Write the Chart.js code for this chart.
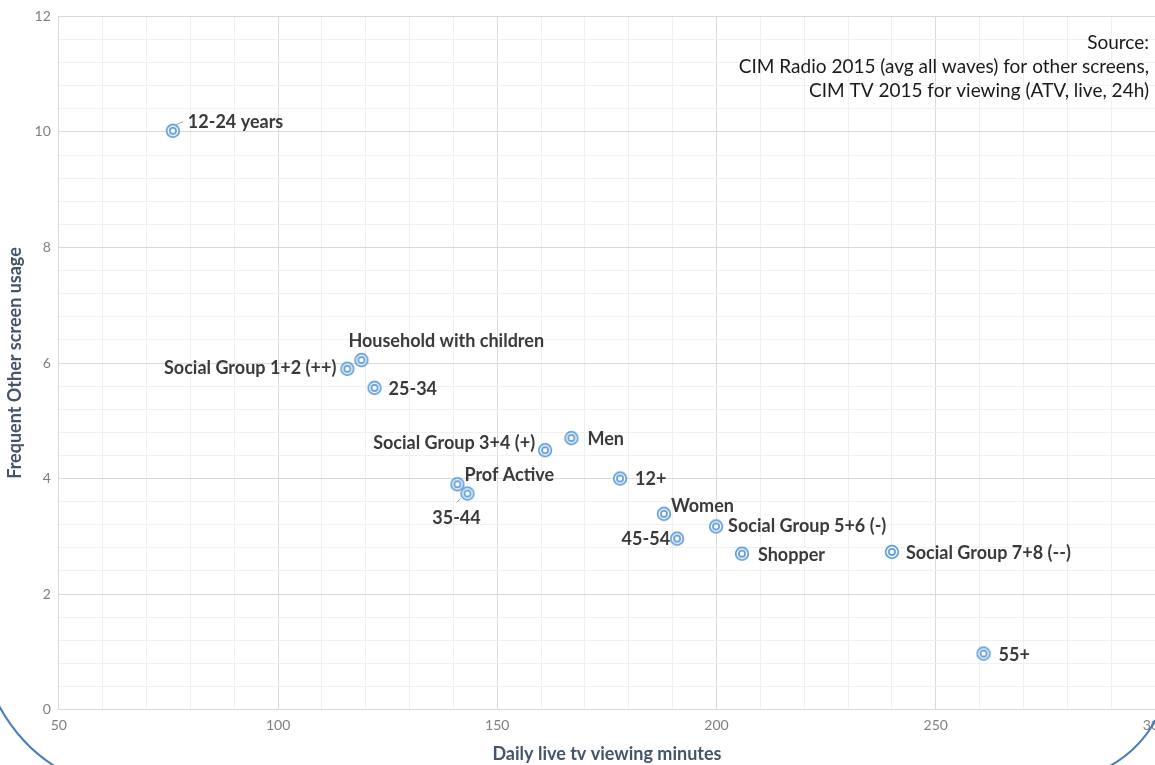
<!DOCTYPE html>
<html><head><meta charset="utf-8">
<script src="https://cdn.jsdelivr.net/npm/chart.js@4.4.1/dist/chart.umd.min.js"></script>
<style>
html,body{margin:0;padding:0;background:#fff;overflow:hidden;width:1155px;height:765px}
#wrap{position:relative;width:1200px;height:765px}
</style></head><body>
<div id="wrap"><canvas id="c"></canvas></div>
<script>
// Target groups, daily live TV minutes vs. frequent other-screen usage
const groups = ['12-24 years','Household with children','Social Group 1+2 (++)','25-34',
  'Social Group 3+4 (+)','Men','12+','Prof Active','35-44','Women',
  'Social Group 5+6 (-)','45-54','Shopper','Social Group 7+8 (--)','55+'];
const viewingMinutes = [76, 119, 115.8, 122, 160.9, 166.9, 178, 140.9, 143.2, 188, 199.9, 191, 205.8, 240, 260.9];
const screenUsage    = [10.02, 6.05, 5.9, 5.57, 4.49, 4.70, 4.0, 3.90, 3.74, 3.39, 3.17, 2.96, 2.70, 2.73, 0.97];
const sourceLines = ['Source:', 'CIM Radio 2015 (avg all waves) for other screens,', 'CIM TV 2015 for viewing (ATV, live, 24h)'];

// label placement: [dx, dy, align, leader line]
const labelPlacement = [
  [15,-9,'left',[3,-6,10,-9]], [-13,-19,'left'], [-11,-1,'right'], [14,1,'left'],
  [-10,-7,'right'], [16,1,'left'], [15,1,'left'], [7,-9,'left'], [-11,25,'center',[-11,9,-7,5]],
  [7,-8,'left'], [12,0,'left'], [-7,1,'right'], [16,2,'left'], [14,1,'left'], [15,2,'left']
];

const BLUE = '#5b9bd5';
const marker = document.createElement('canvas');
marker.width = 18; marker.height = 18;
(function(){
  const g = marker.getContext('2d');
  g.strokeStyle = BLUE; g.lineWidth = 1.7; g.fillStyle = '#fff';
  g.beginPath(); g.arc(9,9,6.3,0,Math.PI*2); g.fill(); g.stroke();
  g.beginPath(); g.arc(9,9,3.1,0,Math.PI*2); g.stroke();
})();

const points = viewingMinutes.map((x,i)=>({x, y: screenUsage[i]}));

const labelPlugin = {
  id: 'pointLabels',
  afterDatasetsDraw(chart){
    const ctx = chart.ctx;
    const meta = chart.getDatasetMeta(0);
    ctx.save();
    ctx.font = 'bold 18px Lato';
    ctx.fillStyle = '#3a3a3a';
    ctx.textBaseline = 'middle';
    meta.data.forEach((el,i)=>{
      const p = labelPlacement[i];
      ctx.textAlign = p[2];
      ctx.fillText(groups[i], el.x + p[0], el.y + p[1]);
      if (p[3]) {
        ctx.strokeStyle = '#a6a6a6'; ctx.lineWidth = 1;
        ctx.beginPath();
        ctx.moveTo(el.x + p[3][0], el.y + p[3][1]);
        ctx.lineTo(el.x + p[3][2], el.y + p[3][3]);
        ctx.stroke();
      }
    });
    ctx.restore();
  },
  afterDraw(chart){
    const ctx = chart.ctx;
    ctx.save();
    ctx.font = '19px Lato';
    ctx.fillStyle = '#1a1a1a';
    ctx.textAlign = 'right';
    ctx.textBaseline = 'middle';
    sourceLines.forEach((t,i)=> ctx.fillText(t, 1149, 43 + i*24));
    // frame arcs at the lower corners
    ctx.strokeStyle = '#4a7ebb'; ctx.lineWidth = 2;
    ctx.beginPath(); ctx.moveTo(-2,704); ctx.quadraticCurveTo(20,745,56,767); ctx.stroke();
    ctx.beginPath(); ctx.moveTo(1158,716); ctx.quadraticCurveTo(1140,750,1108,767); ctx.stroke();
    ctx.restore();
  }
};

const isMajor = (v, step) => Math.abs(v/step - Math.round(v/step)) < 1e-6;

new Chart(document.getElementById('c'), {
  type: 'scatter',
  data: { datasets: [{ data: points, pointStyle: marker, pointRadius: 7, pointHoverRadius: 7 }] },
  options: {
    responsive: true, maintainAspectRatio: false, animation: false,
    layout: { padding: { left: 4, right: 45, top: 14, bottom: 0 } },
    plugins: { legend: { display: false }, tooltip: { enabled: false } },
    scales: {
      x: {
        type: 'linear', min: 50, max: 300,
        ticks: { stepSize: 10, autoSkip: false, maxRotation: 0, padding: 7, color: '#7f7f7f',
          font: { family: 'Lato', size: 14 },
          callback: v => isMajor(v,50) ? v : '' },
        grid: { color: c => isMajor(c.tick.value,50) ? '#d9d9d9' : '#f0f0f0', drawTicks: false, lineWidth: 1 },
        border: { color: '#d9d9d9' },
        title: { display: true, text: 'Daily live tv viewing minutes', color: '#44546a',
          font: { family: 'Lato', size: 18, weight: 'bold' }, padding: { top: 3, bottom: 0 } }
      },
      y: {
        type: 'linear', min: 0, max: 12,
        ticks: { stepSize: 0.4, autoSkip: false, padding: 8, color: '#7f7f7f',
          font: { family: 'Lato', size: 14 },
          callback: v => isMajor(v,2) ? Math.round(v) : '' },
        grid: { color: c => isMajor(c.tick.value,2) ? '#d9d9d9' : '#f0f0f0', drawTicks: false, lineWidth: 1 },
        border: { color: '#d9d9d9' },
        title: { display: true, text: 'Frequent Other screen usage', color: '#44546a',
          font: { family: 'Lato', size: 18, weight: 'bold' }, padding: { top: 0, bottom: 1 } }
      }
    }
  },
  plugins: [labelPlugin]
});
</script>
</body></html>
